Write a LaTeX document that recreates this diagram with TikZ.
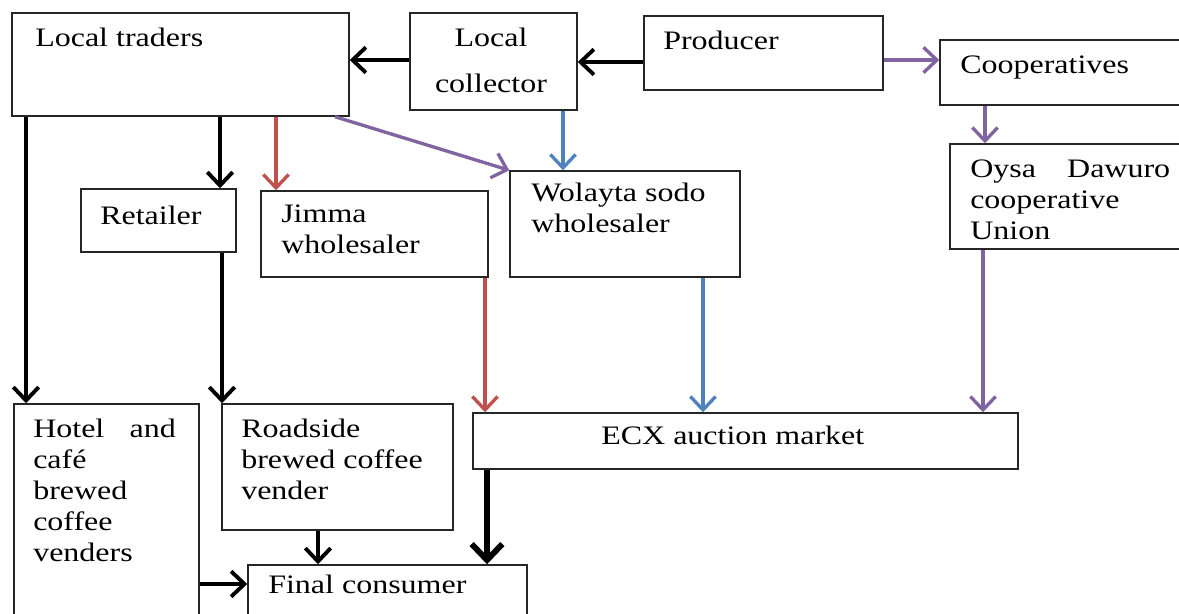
\documentclass[tikz,border=0pt]{standalone}
\usepackage{fontspec}
\setmainfont{Liberation Serif}[FakeStretch=1.2]
\usetikzlibrary{arrows.meta,fit}
\definecolor{cred}{HTML}{C0504D}
\definecolor{cblue}{HTML}{4F81BD}
\definecolor{cpurple}{HTML}{8064A2}
\begin{document}
\begin{tikzpicture}[x=0.75pt,y=-0.75pt,
  box/.style={draw=black!85,line width=1.1pt,inner sep=0pt,rectangle},
  txt/.style={inner sep=0pt,font=\fontsize{20}{23.25}\selectfont,text=black},
  arr/.style={line width=2.9pt,-{Straight Barb[length=10pt,width=19pt]}},
  carr/.style={line width=2.5pt,-{Straight Barb[length=10pt,width=19pt]}},
  bigarr/.style={line width=4.4pt,-{Straight Barb[length=12pt,width=23pt]}},
]
\useasboundingbox (0,0) rectangle (1179,614);
\fill[white] (0,0) rectangle (1179,614);
\clip (0,0) rectangle (1179,614);

% boxes
\node[box,fit={(12,13)(349,116)}] (traders) {};
\node[box,fit={(410,13)(577,110)}] (collector) {};
\node[box,fit={(644,16)(883,90)}] (producer) {};
\node[box,fit={(940,40)(1200,105)}] (coop) {};
\node[box,fit={(950,144)(1200,249)}] (oysa) {};
\node[box,fit={(81,189)(236,252)}] (retailer) {};
\node[box,fit={(261,191)(488,277)}] (jimma) {};
\node[box,fit={(510,171)(740,277)}] (wolayta) {};
\node[box,fit={(14,404)(199,640)}] (hotel) {};
\node[box,fit={(222,404)(453,530)}] (roadside) {};
\node[box,fit={(473,413)(1018,469)}] (ecx) {};
\node[box,fit={(248,565)(527,640)}] (final) {};

% texts
\node[txt,anchor=base west] (ttraders) at (35,46) {Local traders};
\node[txt,anchor=north,align=center] (tcollector) at (491,28) {Local\\[11pt]collector};
\node[txt,anchor=base west] (tproducer) at (663,49) {Producer};
\node[txt,anchor=base west] (tcoop) at (960,73) {Cooperatives};
\node[txt,anchor=north west,text width=150pt,align=left] (toysa) at (970,160) {Oysa\hfill Dawuro\\cooperative\\Union};
\node[txt,anchor=base west] (tretailer) at (100,224) {Retailer};
\node[txt,anchor=north west,align=left] (tjimma) at (281,205) {Jimma\\wholesaler};
\node[txt,anchor=north west,align=left] (twolayta) at (531,183) {Wolayta sodo\\wholesaler};
\node[txt,anchor=north west,text width=107pt,align=left] (thotel) at (33,419) {Hotel\hfill and\\café\\brewed\\coffee\\venders};
\node[txt,anchor=north west,align=left] (troadside) at (241,419) {Roadside\\brewed coffee\\vender};
\node[txt,anchor=base west] (tecx) at (601,444) {ECX auction market};
\node[txt,anchor=base west] (tfinal) at (268,593) {Final consumer};

% connectors
\draw[arr] (collector.west |- 0,60) -- (traders.east |- 0,60);
\draw[arr] (producer.west |- 0,62) -- (collector.east |- 0,62);
\draw[carr,cpurple] (producer.east |- 0,60) -- (coop.west |- 0,60);
\draw[carr,cpurple] (985,0 |- coop.south) -- (985,0 |- oysa.north);
\draw[carr,cblue] (563,0 |- collector.south) -- (563,0 |- wolayta.north);
\draw[carr,cpurple] (335,0 |- traders.south) -- (wolayta.north west);
\draw[arr] (220,0 |- traders.south) -- (220,0 |- retailer.north);
\draw[carr,cred] (276,0 |- traders.south) -- (276,0 |- jimma.north);
\draw[arr] (26,0 |- traders.south) -- (26,0 |- hotel.north);
\draw[arr] (222,0 |- retailer.south) -- (222,0 |- roadside.north);
\draw[carr,cred] (485,0 |- jimma.south) -- (485,0 |- ecx.north);
\draw[carr,cblue] (703,0 |- wolayta.south) -- (703,0 |- ecx.north);
\draw[carr,cpurple] (983,0 |- oysa.south) -- (983,0 |- ecx.north);
\draw[bigarr] (487,0 |- ecx.south) -- (487,0 |- final.north);
\draw[arr] (318,0 |- roadside.south) -- (318,0 |- final.north);
\draw[arr] (hotel.east |- 0,584) -- (final.west |- 0,584);
\end{tikzpicture}
\end{document}
